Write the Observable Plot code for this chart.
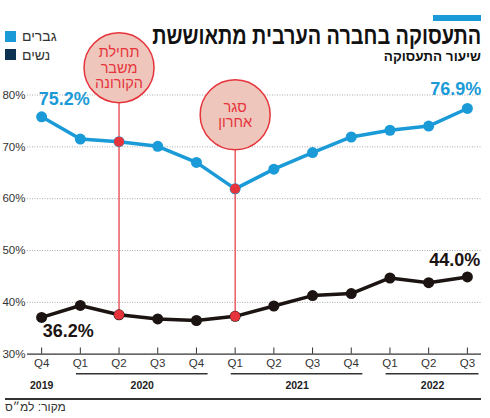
<!DOCTYPE html>
<html><head><meta charset="utf-8">
<script src="https://cdn.jsdelivr.net/npm/d3@7"></script>
<script src="https://cdn.jsdelivr.net/npm/@observablehq/plot@0.6"></script>
<style>
body{margin:0;background:#fff;}
#wrap{position:relative;width:490px;height:418px;overflow:hidden;background:#fff;font-family:"Liberation Sans",Arial,sans-serif;}
.abs{position:absolute;}
#bar{left:433px;top:15px;width:48px;height:6px;background:#1a9bd7;}
#title{right:9px;top:26px;font-size:24px;font-weight:bold;line-height:19px;direction:rtl;color:#111;white-space:nowrap;transform-origin:right center;}
#subtitle{right:9px;top:50px;font-size:13.5px;font-weight:bold;line-height:13px;direction:rtl;color:#111;white-space:nowrap;}
.sw{width:11px;height:11px;left:5px;}
.lg{left:22px;font-size:14px;line-height:14px;color:#333;direction:rtl;white-space:nowrap;}
#rule{left:5px;top:398px;width:476px;height:1.5px;background:#333;}
#src{left:5px;top:401px;font-size:12px;line-height:13px;color:#333;direction:rtl;white-space:nowrap;}
svg{position:absolute;left:0;top:0;}
</style></head>
<body><div id="wrap"></div>
<script>
const quarters = ["Q4","Q1","Q2","Q3","Q4","Q1","Q2","Q3","Q4","Q1","Q2","Q3"];
const years = ["2019","2020","2020","2020","2020","2021","2021","2021","2021","2022","2022","2022"];
const men = [75.8, 71.5, 71.0, 70.1, 67.0, 61.9, 65.7, 68.9, 71.9, 73.2, 74.0, 77.4];
const women = [37.1, 39.4, 37.6, 36.8, 36.5, 37.3, 39.3, 41.3, 41.7, 44.7, 43.8, 44.9];
const yTicks = [30, 40, 50, 60, 70, 80];
const endLabels = ["75.2%", "76.9%", "36.2%", "44.0%"];
const eventIdx = [2, 5];
const eventText = ["תחילת\nמשבר\nהקורונה", "סגר\nאחרון"];
const seriesNames = ["גברים", "נשים"];
const seriesColors = ["#1a9bd7", "#0d3150"];
const titleText = "התעסוקה בחברה הערבית מתאוששת";
const subtitleText = "שיעור התעסוקה";
const sourceText = "מקור: למ״ס";

const BLUE = "#1a9bd7", DARK = "#1c1412", RED = "#e5343b";
const idx = quarters.map((_, i) => i);
const rows = idx.map(i => ({i, q: quarters[i], year: years[i], men: men[i], women: women[i]}));
const xMin = -0.365, xMax = 11.365;
const groups = d3.groups(rows, d => d.year).map(([year, rs]) => {
  const first = rs[0].i, last = rs[rs.length - 1].i;
  const x1 = first - 0.1, x2 = Math.min(last + 0.3, xMax);
  return {year, first, last, n: rs.length, x1, x2, mid: rs.length > 1 ? (x1 + x2) / 2 : first};
});
const events = eventIdx.map((e, k) => ({i: e, men: men[e], women: women[e], text: eventText[k]}));

const FONT = "'Liberation Sans',Arial,sans-serif";

const chart = Plot.plot({
  width: 490, height: 418,
  marginLeft: 27, marginRight: 9, marginTop: 94.5, marginBottom: 64.3,
  x: {type: "linear", domain: [xMin, xMax], axis: null},
  y: {type: "linear", domain: [30, 80], axis: null},
  style: {fontFamily: FONT, overflow: "visible"},
  marks: [
    Plot.ruleY(yTicks.filter(d => d > 30), {stroke: "#aaa", strokeWidth: 1, strokeDasharray: "1,1.5"}),
    Plot.text(yTicks, {x: xMin, y: d => d, text: d => d + "%", textAnchor: "end", dx: -2, fontSize: 11.5, fill: "#333", ariaLabel: "cond-ytick"}),
    Plot.ruleY([30], {stroke: "#333", strokeWidth: 1.3}),
    Plot.ruleX(idx, {x: d => d, y1: 30, y2: 31.2, stroke: "#333", strokeWidth: 1}),
    Plot.text(rows, {x: "i", y: 30, text: "q", dy: 9, fontSize: 11.5, fill: "#333", ariaLabel: "cond-q"}),
    Plot.ruleY(groups.filter(g => g.n > 1), {x1: "x1", x2: "x2", y: 30, dy: 19.5, stroke: "#333", strokeWidth: 1.5}),
    Plot.text(groups, {x: "mid", y: 30, text: "year", dy: 31.5, fontSize: 10.5, fontWeight: "bold", fill: "#222"}),
    Plot.ruleX(events, {x: "i", y1: "men", y2: "women", insetTop: -40, stroke: RED, strokeWidth: 1.2}),
    Plot.line(rows, {x: "i", y: "men", stroke: BLUE, strokeWidth: 3.5}),
    Plot.dot(rows, {x: "i", y: "men", r: 5.5, fill: BLUE}),
    Plot.line(rows, {x: "i", y: "women", stroke: DARK, strokeWidth: 3.5}),
    Plot.dot(rows, {x: "i", y: "women", r: 5.5, fill: DARK}),
    Plot.dot(events, {x: "i", y: "men", r: 5, fill: RED}),
    Plot.dot(events, {x: "i", y: "women", r: 5, fill: RED}),
    Plot.dot(events, {x: "i", y: "men", dy: -74, r: 35, fill: "#efc6bc", stroke: RED, strokeWidth: 1.5}),
    Plot.text(events, {x: "i", y: "men", dy: -74, text: "text", fontSize: 14.5, lineHeight: 1.05, fill: RED, ariaLabel: "cond-event"}),
    Plot.text([rows[0]], {x: "i", y: "men", text: () => endLabels[0], textAnchor: "start", dx: -3, dy: -17.5, fontSize: 18, fontWeight: "bold", fill: BLUE, ariaLabel: "cond-end"}),
    Plot.text([rows[11]], {x: "i", y: "men", text: () => endLabels[1], textAnchor: "end", dx: 14, dy: -19, fontSize: 18, fontWeight: "bold", fill: BLUE, ariaLabel: "cond-end"}),
    Plot.text([rows[0]], {x: "i", y: "women", text: () => endLabels[2], textAnchor: "start", dx: 1, dy: 14, fontSize: 18, fontWeight: "bold", fill: DARK, ariaLabel: "cond-end"}),
    Plot.text([rows[11]], {x: "i", y: "women", text: () => endLabels[3], textAnchor: "end", dx: 13, dy: -17, fontSize: 18, fontWeight: "bold", fill: DARK, ariaLabel: "cond-end"})
  ]
});

const wrap = document.getElementById("wrap");
wrap.appendChild(chart);

// horizontally condense text to mimic the narrow typeface
function condense(label, factor) {
  chart.querySelectorAll(`g[aria-label="${label}"] text`).forEach(t => {
    const spans = t.querySelectorAll("tspan");
    const parts = spans.length ? Array.from(spans) : [t];
    parts.forEach(p => {
      const w = p.getComputedTextLength();
      if (w > 0) {
        p.setAttribute("textLength", (w * factor).toFixed(2));
        p.setAttribute("lengthAdjust", "spacingAndGlyphs");
      }
    });
  });
}
condense("cond-ytick", 0.82);
condense("cond-q", 0.82);
condense("cond-event", 0.85);
condense("cond-end", 0.8);

function add(id, cls, text, style) {
  const d = document.createElement("div");
  if (id) d.id = id;
  d.className = "abs " + (cls || "");
  if (text) d.textContent = text;
  if (style) Object.assign(d.style, style);
  wrap.appendChild(d);
  return d;
}
add("bar");
const title = add("title", "", titleText);
const tw = title.getBoundingClientRect().width;
title.style.transform = `scaleX(${(329 / tw).toFixed(3)})`;
add("subtitle", "", subtitleText);
add(null, "sw", null, {top: "31px", background: seriesColors[0]});
add(null, "sw", null, {top: "49px", background: seriesColors[1]});
add(null, "lg", seriesNames[0], {top: "29px"});
add(null, "lg", seriesNames[1], {top: "48px"});
add("rule");
add("src", "", sourceText);
</script>
</body></html>
